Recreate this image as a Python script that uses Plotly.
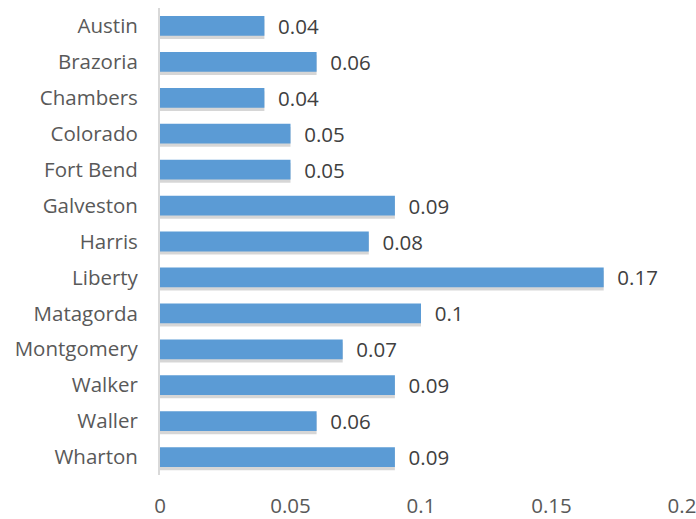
import plotly.graph_objects as go

counties = ["Austin", "Brazoria", "Chambers", "Colorado", "Fort Bend", "Galveston",
            "Harris", "Liberty", "Matagorda", "Montgomery", "Walker", "Waller", "Wharton"]
values = [0.04, 0.06, 0.04, 0.05, 0.05, 0.09, 0.08, 0.17, 0.1, 0.07, 0.09, 0.06, 0.09]
x_ticks = [0, 0.05, 0.1, 0.15, 0.2]
x_tick_labels = ["0", "0.05", "0.1", "0.15", "0.2"]

FONT = "Open Sans"
GREY = "#595959"
FS = 20.5
BAR_W = 0.55

fig = go.Figure()
# soft drop shadow under each bar
fig.add_trace(go.Bar(
    y=counties, x=values, orientation="h",
    width=BAR_W, offset=-BAR_W / 2 + 0.09,
    marker=dict(color="rgba(0,0,0,0.16)", line=dict(width=0)),
    hoverinfo="skip", showlegend=False,
))
fig.add_trace(go.Bar(
    y=counties, x=values, orientation="h",
    width=BAR_W, offset=-BAR_W / 2,
    marker=dict(color="#5B9BD5", line=dict(width=0)),
    text=[f"\u00a0\u00a0{v:g}" for v in values],
    textposition="outside", cliponaxis=False, constraintext="none",
    textfont=dict(family=FONT, size=FS, color="#404040"),
    outsidetextfont=dict(family=FONT, size=FS, color="#404040"),
    showlegend=False,
))

fig.update_layout(
    width=696, height=519,
    margin=dict(l=160, r=14, t=8, b=44, autoexpand=False),
    paper_bgcolor="white", plot_bgcolor="white",
    barmode="overlay",
    font=dict(family=FONT, size=FS, color=GREY),
    xaxis=dict(range=[0, 0.2], tickvals=x_ticks, ticktext=x_tick_labels,
               showgrid=False, zeroline=False, showline=False, automargin=False,
               ticks="", ticklabelstandoff=16, ticklabeloverflow="allow",
               tickfont=dict(family=FONT, size=FS, color=GREY)),
    yaxis=dict(autorange="reversed", showgrid=False, zeroline=False, automargin=False,
               showline=True, linecolor="#D9D9D9", linewidth=2,
               ticks="", ticklabelstandoff=16, ticklabeloverflow="allow",
               tickfont=dict(family=FONT, size=FS, color=GREY)),
)

fig.write_html("out.html")
